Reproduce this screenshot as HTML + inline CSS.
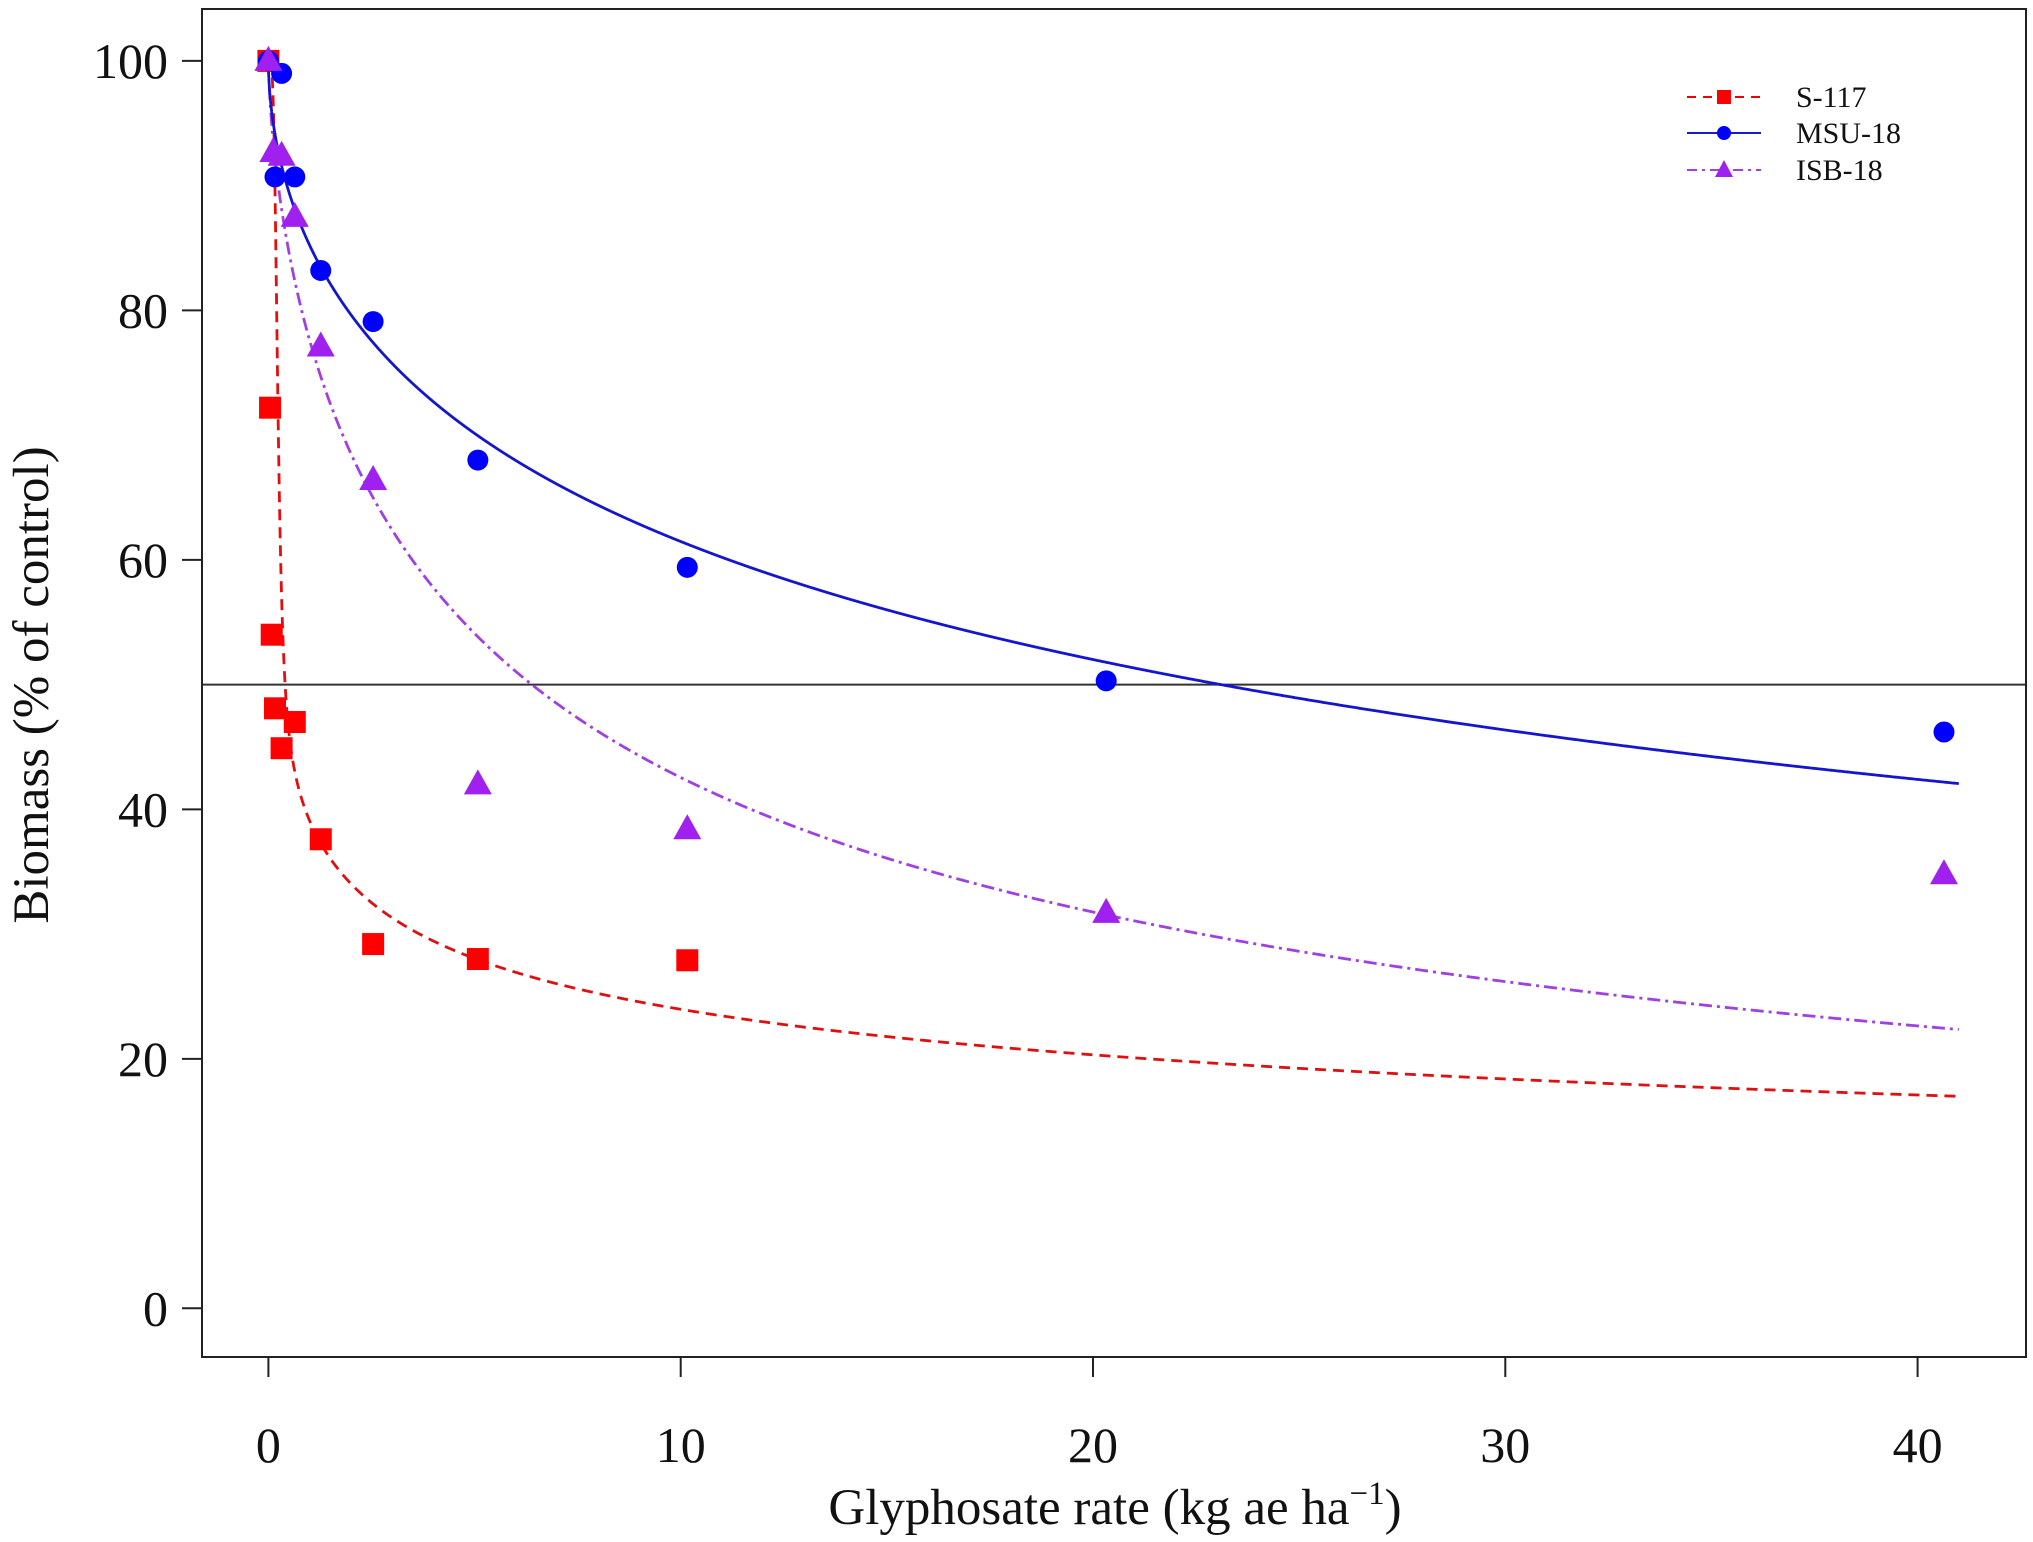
<!DOCTYPE html>
<html><head><meta charset="utf-8">
<style>
html,body{margin:0;padding:0;background:#fff;}
svg{display:block;font-family:"Liberation Serif",serif;}
</style></head>
<body>
<svg id="chart" width="2033" height="1542" viewBox="0 0 2033 1542" xmlns="http://www.w3.org/2000/svg">
<rect x="0" y="0" width="2033" height="1542" fill="#fff"/>
<g id="marks"></g>
<rect x="202" y="9" width="1824" height="1348" fill="none" stroke="#222" stroke-width="2"/>
<text x="0" y="0" transform="translate(48,685) rotate(-90)" text-anchor="middle" font-size="51" fill="#111">Biomass (% of control)</text>
<text x="1115" y="1524" text-anchor="middle" font-size="51" fill="#111">Glyphosate rate (kg ae ha<tspan dy="-20" font-size="33">−1</tspan><tspan dy="20">)</tspan></text>
<g>
  <line x1="1687" y1="97" x2="1761" y2="97" stroke="#e00" stroke-width="2" stroke-dasharray="9,7"/>
  <rect x="1717" y="90" width="14" height="14" fill="#f00"/>
  <text x="1796" y="107" font-size="30" fill="#111">S-117</text>
  <line x1="1687" y1="133" x2="1761" y2="133" stroke="#1a1acc" stroke-width="2"/>
  <circle cx="1724" cy="133" r="7" fill="#00f"/>
  <text x="1796" y="143" font-size="30" fill="#111">MSU-18</text>
  <line x1="1687" y1="170" x2="1761" y2="170" stroke="#a040e0" stroke-width="2" stroke-dasharray="10,5,3,5"/>
  <polygon points="1724,160 1733,177 1715,177" fill="#a020f0"/>
  <text x="1796" y="180" font-size="30" fill="#111">ISB-18</text>
</g>
</svg>
<script>
const xTicks = [0, 10, 20, 30, 40];
const yTicks = [0, 20, 40, 60, 80, 100];
const refLine = [50];
const s117Dose = [0, 0.04, 0.08, 0.16, 0.32, 0.64, 1.27, 2.54, 5.08, 10.16];
const s117Value = [100, 72.2, 54.0, 48.1, 44.9, 47.0, 37.6, 29.2, 28.0, 27.9];
const msuDose = [0, 0.32, 0.16, 0.64, 1.27, 2.54, 5.08, 10.16, 20.32, 40.64];
const msuValue = [100, 99.0, 90.7, 90.7, 83.2, 79.1, 68.0, 59.4, 50.3, 46.2];
const isbDose = [0, 0.12, 0.32, 0.64, 1.27, 2.54, 5.08, 10.16, 20.32, 40.64];
const isbValue = [100, 92.7, 92.4, 87.5, 77.1, 66.4, 42.0, 38.4, 31.7, 34.8];
// fitted curve parameters [b, e] for log-logistic 100/(1+(x/e)^b)
const s117Fit = [0.306, 0.23, 4, 0.22];
const msuFit = [0.558, 23.1];
const isbFit = [0.67, 6.39];
const curveMax = [41];

const NS = "http://www.w3.org/2000/svg";
function xs(v){ return 268.4 + v * 41.23; }
function ys(v){ return 1308.3 - v * 12.474; }
function ll(x, b, e){ return 100 / (1 + Math.pow(x / e, b)); }
function fRed(x){ const t = ll(x, s117Fit[0], s117Fit[1]); return t + (100 - t) / (1 + Math.pow(x / s117Fit[3], s117Fit[2])); }
function fBlue(x){ return ll(x, msuFit[0], msuFit[1]); }
function fPurple(x){ return ll(x, isbFit[0], isbFit[1]); }

const g = document.getElementById('marks');
function mk(tag, attrs){ const el = document.createElementNS(NS, tag); for (const k in attrs) el.setAttribute(k, attrs[k]); g.appendChild(el); return el; }

xTicks.forEach(t => {
  const l = mk('line', {x1: xs(t), x2: xs(t), y1: 1357, y2: 1377, stroke: '#222', 'stroke-width': 2});
  
  
  const tx = mk('text', {x: xs(t), y: 1462, 'text-anchor': 'middle', 'font-size': 50, fill: '#111'});
  tx.textContent = t;
  
  
});
yTicks.forEach(t => {
  const l = mk('line', {x1: 182, x2: 202, y1: ys(t), y2: ys(t), stroke: '#222', 'stroke-width': 2});
  
  
  const tx = mk('text', {x: 168, y: ys(t) + 17, 'text-anchor': 'end', 'font-size': 50, fill: '#111'});
  tx.textContent = t;
  
  
});
const hl = mk('line', {x1: 202, x2: 2026, y1: ys(refLine[0]), y2: ys(refLine[0]), stroke: '#333', 'stroke-width': 2});



function curve(f, color, dash, name){
  let d = '';
  for (let i = 0; i <= 4000; i++) {
    const x = curveMax[0] * Math.pow(i / 4000, 2.5);
    d += (i ? 'L' : 'M') + xs(x).toFixed(2) + ',' + ys(f(x)).toFixed(2);
  }
  const p = mk('path', {d: d, fill: 'none', stroke: color, 'stroke-width': 2.8});
  if (dash) p.setAttribute('stroke-dasharray', dash);
  
  
}
curve(fRed, '#e01010', '11,7', 's117-fit-curve');
curve(fPurple, '#a040e0', '13,5,3,5', 'isb18-fit-curve');
curve(fBlue, '#1515d0', null, 'msu18-fit-curve');

s117Dose.forEach((d, i) => {
  const r = mk('rect', {x: xs(d) - 11, y: ys(s117Value[i]) - 11, width: 22, height: 22, fill: '#f00'});
  
  
});
msuDose.forEach((d, i) => {
  const c = mk('circle', {cx: xs(d), cy: ys(msuValue[i]), r: 10.5, fill: '#00f'});
  
  
});
isbDose.forEach((d, i) => {
  const x = xs(d), y = ys(isbValue[i]);
  const p = mk('polygon', {points: `${x},${y-15} ${x+14},${y+10} ${x-14},${y+10}`, fill: '#a020f0'});
  
  
});
</script>
</body></html>
